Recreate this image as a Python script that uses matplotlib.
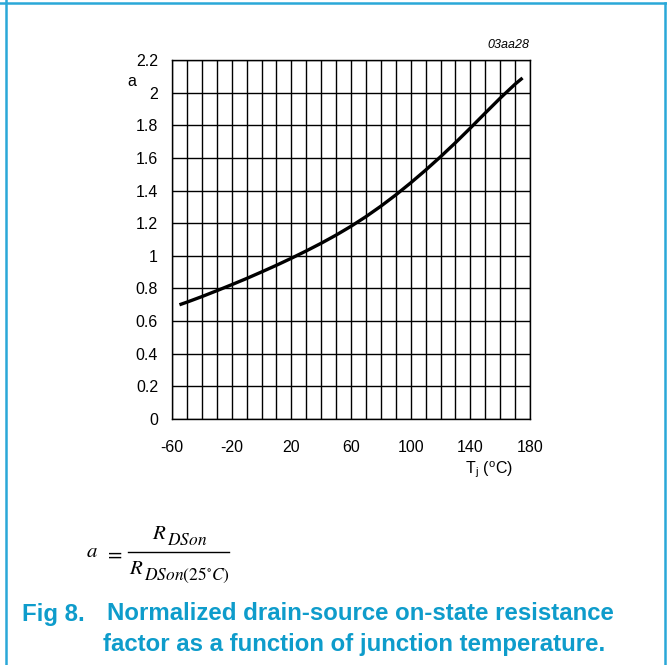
import matplotlib
matplotlib.use("Agg")
import matplotlib.pyplot as plt
from matplotlib.lines import Line2D
import numpy as np

# Data
temp_c = [-55, -50, -40, -30, -20, -10, 0, 10, 20, 30, 40, 50, 60, 70, 80, 90, 100,
          110, 120, 130, 140, 150, 160, 170, 175]
factor_a = [0.700, 0.716, 0.750, 0.786, 0.823, 0.861, 0.901, 0.942, 0.985, 1.030, 1.077,
            1.127, 1.181, 1.240, 1.304, 1.373, 1.447, 1.525, 1.607, 1.693, 1.783, 1.875,
            1.966, 2.052, 2.090]

x_ticks = [-60, -20, 20, 60, 100, 140, 180]
y_ticks = [0, 0.2, 0.4, 0.6, 0.8, 1, 1.2, 1.4, 1.6, 1.8, 2, 2.2]
y_tick_labels = ["0", "0.2", "0.4", "0.6", "0.8", "1", "1.2", "1.4", "1.6", "1.8", "2", "2.2"]

plt.rcParams['font.family'] = ['Liberation Sans', 'DejaVu Sans']
plt.rcParams['mathtext.fontset'] = 'stix'

W, H = 667, 665
fig = plt.figure(figsize=(W / 100, H / 100), dpi=100)
fig.patch.set_facecolor('white')

ax = fig.add_axes([172 / W, 1 - 419 / H, (530 - 172) / W, (419 - 60) / H])
ax.set_xlim(-60, 180)
ax.set_ylim(0, 2.2)

# grid
for xv in np.arange(-60, 181, 10):
    ax.axvline(xv, color='black', lw=1.0, zorder=1)
for yv in y_ticks:
    ax.axhline(yv, color='black', lw=1.0, zorder=1)

ax.plot(temp_c, factor_a, color='black', lw=2.4, zorder=3, solid_capstyle='butt',
        solid_joinstyle='round')

ax.set_xticks(x_ticks)
ax.set_xticklabels([str(v) for v in x_ticks])
ax.set_yticks(y_ticks)
ax.set_yticklabels(y_tick_labels)
ax.tick_params(axis='both', length=0, labelsize=11.5, colors='black')
ax.tick_params(axis='x', pad=15)
ax.tick_params(axis='y', pad=10)
for s in ax.spines.values():
    s.set_color('black')
    s.set_linewidth(1.0)

fig.text(132 / W, 1 - 82 / H, 'a', fontsize=11.5, ha='center', va='center')
fig.text(489 / W, 1 - 470 / H, r'T$_\mathregular{j}$ ($^\mathregular{o}$C)', fontsize=11.5,
         ha='center', va='center')
fig.text(529 / W, 1 - 45 / H, '03aa28', fontsize=9, style='italic', ha='right', va='center')

# formula  a = R_DSon / R_DSon(25°C)
renderer = fig.canvas.get_renderer()
fig.text(86 / W, 1 - 557 / H, r'$a$', fontsize=15, ha='left', va='baseline')
fig.text(104 / W, 1 - 552 / H, r'$=$', fontsize=15, ha='left', va='center_baseline')
fig.add_artist(Line2D([128 / W, 229 / W], [1 - 552 / H, 1 - 552 / H], color='black', lw=1.0,
                      transform=fig.transFigure))


def frac_term(x_center, base_y, sub):
    t_r = fig.text(0, 1 - base_y / H, r'$R$', fontsize=15, ha='left', va='baseline')
    t_s = fig.text(0, 1 - (base_y + 6) / H, r'$' + sub + '$', fontsize=12.5, ha='left',
                   va='baseline')
    w_r = t_r.get_window_extent(renderer).width
    w_s = t_s.get_window_extent(renderer).width
    total = w_r + 0.5 + w_s
    x0 = x_center - total / 2
    t_r.set_x(x0 / W)
    t_s.set_x((x0 + w_r + 0.5) / W)


frac_term(180, 539, r'DSon')
frac_term(179, 574, r'DSon(25^{\circ}C)')

# caption
cap_color = '#0E9CCB'
cfs = 17.3
fig.text(22 / W, 1 - 614 / H, 'Fig 8.', fontsize=cfs, fontweight='bold', color=cap_color,
         ha='left', va='center')
fig.text(107 / W, 1 - 614 / H, 'Normalized drain-source on-state resistance', fontsize=cfs,
         fontweight='bold', color=cap_color, ha='left', va='center')
fig.text(103 / W, 1 - 644 / H, 'factor as a function of junction temperature.', fontsize=cfs,
         fontweight='bold', color=cap_color, ha='left', va='center')

# frame lines
border = '#2AA8D8'
fig.add_artist(Line2D([0, 1], [1 - 3.3 / H, 1 - 3.3 / H], color=border, lw=1.8, transform=fig.transFigure))
fig.add_artist(Line2D([5.8 / W, 5.8 / W], [0, 1], color=border, lw=1.8, transform=fig.transFigure))
fig.add_artist(Line2D([665 / W, 665 / W], [0, 1 - 3.3 / H], color=border, lw=1.8, transform=fig.transFigure))

fig.savefig('out.png', dpi=100, facecolor='white')
